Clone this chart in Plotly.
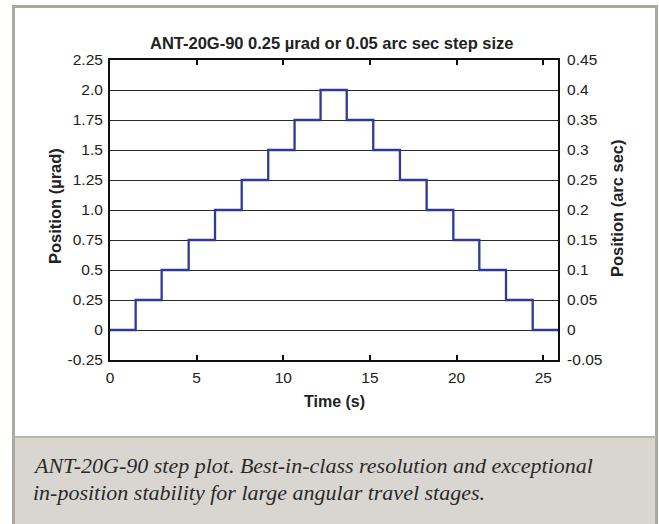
import plotly.graph_objects as go

# ---- data ----
step_times = [0, 1.48, 2.98, 4.54, 6.06, 7.60, 9.13, 10.65, 12.15,
              13.66, 15.19, 16.73, 18.27, 19.81, 21.31, 22.85, 24.39]
levels_urad = [0, 0.25, 0.5, 0.75, 1.0, 1.25, 1.5, 1.75, 2.0,
               1.75, 1.5, 1.25, 1.0, 0.75, 0.5, 0.25, 0]
end_time = 25.85

x_ticks = [0, 5, 10, 15, 20, 25]
y_left_ticks = [-0.25, 0, 0.25, 0.5, 0.75, 1.0, 1.25, 1.5, 1.75, 2.0, 2.25]
y_left_labels = ["-0.25", "0", "0.25", "0.5", "0.75", "1.0", "1.25", "1.5", "1.75", "2.0", "2.25"]
y_right_ticks = [-0.05, 0, 0.05, 0.1, 0.15, 0.2, 0.25, 0.3, 0.35, 0.4, 0.45]
y_right_labels = ["-0.05", "0", "0.05", "0.1", "0.15", "0.2", "0.25", "0.3", "0.35", "0.4", "0.45"]

title_text = "ANT-20G-90 0.25 µrad or 0.05 arc sec step size"
caption_lines = ["ANT-20G-90 step plot. Best-in-class resolution and exceptional",
                 "in-position stability for large angular travel stages."]

# ---- layout geometry (page pixels) ----
W, H = 659, 524
PL, PR, PT, PB = 110, 558, 60, 360   # plot area
pw, ph = PR - PL, PB - PT

def px(x):
    return (x - PL) / pw

def py(y):
    return (PB - y) / ph

xs = step_times + [end_time]
ys = levels_urad + [levels_urad[-1]]

fig = go.Figure()
fig.add_trace(go.Scatter(x=xs, y=ys, mode="lines", line_shape="hv",
                         line=dict(color="#2e3a98", width=2.3), showlegend=False,
                         hoverinfo="skip"))
fig.add_trace(go.Scatter(x=[0], y=[0], yaxis="y2", mode="markers",
                         marker=dict(opacity=0), showlegend=False, hoverinfo="skip"))

SANS = "Liberation Sans, Arial, sans-serif"
tickfont = dict(family=SANS, size=15.5, color="#222")

fig.update_layout(
    width=W, height=H,
    margin=dict(l=PL, r=W - PR, t=PT, b=H - PB, autoexpand=False),
    paper_bgcolor="white", plot_bgcolor="white",
    xaxis=dict(range=[0, end_time], tickvals=x_ticks, ticks="inside", ticklen=5,
               tickwidth=1.5, tickcolor="#111", showline=True, linecolor="#111",
               linewidth=2, mirror="ticks", showgrid=False, zeroline=False,
               tickfont=tickfont, ticklabelstandoff=2),
    yaxis=dict(range=[-0.25, 2.25], tickvals=y_left_ticks, ticktext=y_left_labels,
               showgrid=True, gridcolor="#2a2a2a", gridwidth=1.2, showline=True,
               linecolor="#111", linewidth=2, zeroline=False, ticks="",
               tickfont=tickfont, ticklabelstandoff=2),
    yaxis2=dict(range=[-0.05, 0.45], tickvals=y_right_ticks, ticktext=y_right_labels,
                overlaying="y", side="right", showgrid=False, showline=True,
                linecolor="#111", linewidth=2, zeroline=False, ticks="",
                tickfont=tickfont, ticklabelstandoff=4),
)

shapes = [
    dict(type="rect", xref="paper", yref="paper", x0=px(13.5), x1=px(656.5),
         y0=py(540), y1=py(6.5), line=dict(color="#aca79f", width=3),
         fillcolor="rgba(0,0,0,0)", layer="below"),
    dict(type="rect", xref="paper", yref="paper", x0=px(15), x1=px(655),
         y0=py(540), y1=py(437), line=dict(width=0),
         fillcolor="#d9d6d1", layer="below"),
    dict(type="line", xref="paper", yref="paper", x0=px(13.5), x1=px(656.5),
         y0=py(437), y1=py(437), line=dict(color="#b9b4ac", width=2), layer="below"),
]
fig.update_layout(shapes=shapes)

ann = []
ann.append(dict(text="<b>" + title_text + "</b>", xref="paper", yref="paper",
                x=px(332), y=py(43), xanchor="center", yanchor="middle",
                showarrow=False, font=dict(family=SANS, size=16.5, color="#222")))
ann.append(dict(text="<b>Time (s)</b>", xref="paper", yref="paper",
                x=px(334), y=py(401), xanchor="center", yanchor="middle",
                showarrow=False, font=dict(family=SANS, size=16, color="#222")))
ann.append(dict(text="<b>Position (µrad)</b>", xref="paper", yref="paper",
                x=px(55), y=py(206), xanchor="center", yanchor="middle",
                textangle=-90, showarrow=False, font=dict(family=SANS, size=16.5, color="#222")))
ann.append(dict(text="<b>Position (arc sec)</b>", xref="paper", yref="paper",
                x=px(617), y=py(208), xanchor="center", yanchor="middle",
                textangle=-90, showarrow=False, font=dict(family=SANS, size=16.5, color="#222")))
for i, line in enumerate(caption_lines):
    ann.append(dict(text="<i>" + line + "</i>", xref="paper", yref="paper",
                    x=px(31), y=py(465 + i * 27), xanchor="left", yanchor="middle",
                    showarrow=False,
                    font=dict(family="Liberation Serif, Times New Roman, serif", size=22, color="#2a2a2a")))
fig.update_layout(annotations=ann)

# remove the default 8px page margin so the figure fills the window exactly
fig.write_html("out.html", config={"displayModeBar": False},
               post_script="document.body.style.margin='0';document.body.style.overflow='hidden';")
